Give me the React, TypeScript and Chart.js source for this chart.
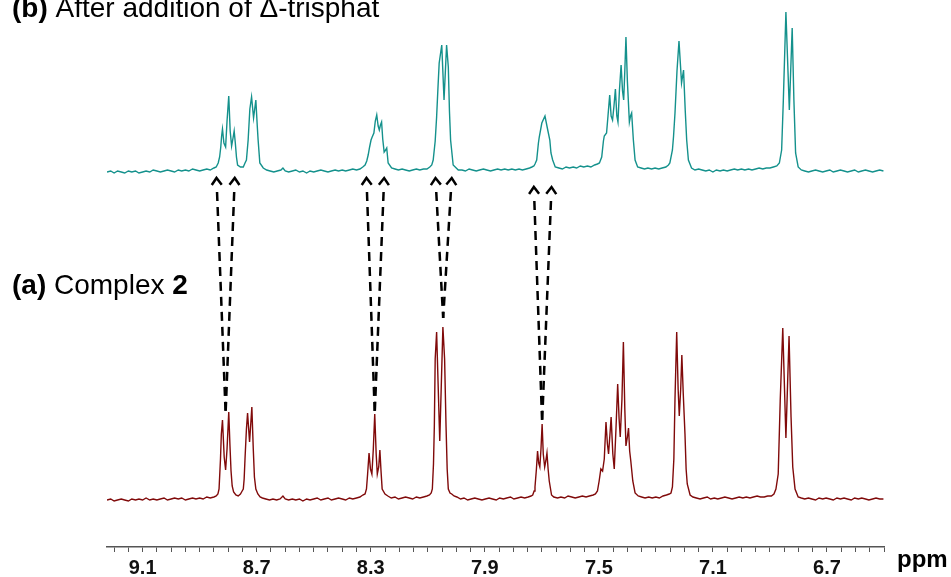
import React, { useEffect, useRef } from 'react';
import { Chart, registerables } from 'chart.js';

Chart.register(...registerables);

// ---------- axis ----------
const X_MIN = 6.5;
const X_MAX = 9.225;
const TICK_LABELS = [9.1, 8.7, 8.3, 7.9, 7.5, 7.1, 6.7];
const MINOR_TICK_FIRST = 9.2;
const MINOR_TICK_LAST = 6.5;
const MINOR_TICK_STEP = 0.05;
const AXIS_UNIT = 'ppm';

// ---------- spectra: [ppm, intensity] ----------
// (a) Complex 2
const BOTTOM_TRACE: [number, number][] = [
  [9.225, -1], [9.212, 0], [9.2, -2], [9.188, -1], [9.175, 0], [9.163, -1], [9.15, -2], [9.138, 0], [9.125, -1], [9.113, 0],
  [9.1, -1], [9.088, 1], [9.075, -1], [9.063, 0], [9.05, -1], [9.038, 0], [9.025, 1], [9.013, -1], [9.0, 0], [8.988, 1],
  [8.975, 0], [8.963, 1], [8.95, -1], [8.938, 0], [8.925, 1], [8.913, 0], [8.9, 1], [8.888, 0], [8.875, 2], [8.863, 1],
  [8.85, 2], [8.842, 3], [8.836, 5],
  [8.832, 10], [8.827, 40], [8.824, 65], [8.82, 79], [8.814, 42], [8.809, 29], [8.804, 50], [8.798, 87], [8.794, 55],
  [8.79, 28], [8.786, 13], [8.781, 7], [8.773, 4], [8.765, 3], [8.757, 5], [8.751, 8],
  [8.747, 10], [8.744, 20], [8.741, 40], [8.736, 70], [8.732, 86], [8.725, 57], [8.717, 92], [8.712, 50], [8.708, 22],
  [8.703, 10], [8.696, 5], [8.688, 2],
  [8.68, 1], [8.668, 0], [8.655, -1], [8.643, 0], [8.63, -1], [8.618, 0], [8.608, 3], [8.6, 0], [8.588, -1], [8.575, 0],
  [8.563, -1], [8.55, 0], [8.538, -2], [8.525, 0], [8.513, -1], [8.5, 0], [8.488, 1], [8.475, -1], [8.463, 0], [8.45, 1],
  [8.438, -1], [8.425, 0], [8.413, 1], [8.4, 0], [8.388, -1], [8.375, 1], [8.363, 0], [8.35, 1], [8.338, 2], [8.328, 4],
  [8.32, 5], [8.315, 10], [8.311, 25], [8.306, 46], [8.301, 30], [8.296, 25], [8.291, 50], [8.286, 85], [8.281, 45],
  [8.277, 25], [8.272, 32], [8.268, 49], [8.264, 28], [8.26, 10], [8.25, 5], [8.24, 3],
  [8.228, 1], [8.215, 2], [8.203, 0], [8.19, 1], [8.178, 2], [8.165, 1], [8.153, 0], [8.14, 2], [8.128, 1], [8.115, 2],
  [8.103, 3], [8.094, 4], [8.088, 6],
  [8.084, 10], [8.08, 35], [8.077, 73], [8.074, 140], [8.069, 167], [8.058, 58], [8.047, 172], [8.041, 140], [8.036, 73],
  [8.032, 30], [8.028, 10], [8.022, 6], [8.016, 5], [8.008, 3],
  [7.998, 2], [7.985, 0], [7.973, 1], [7.96, -1], [7.948, 0], [7.935, 1], [7.923, 0], [7.91, -1], [7.898, 0], [7.885, 1],
  [7.873, 0], [7.86, -1], [7.848, 1], [7.835, 0], [7.823, 1], [7.81, 2], [7.798, 0], [7.785, 1], [7.773, 2], [7.76, 1],
  [7.748, 2], [7.738, 3],
  [7.732, 4], [7.727, 8], [7.724, 12], [7.719, 30], [7.715, 48], [7.711, 36], [7.707, 32], [7.703, 50], [7.699, 75],
  [7.695, 45], [7.69, 32], [7.686, 38], [7.682, 46], [7.678, 30], [7.674, 18], [7.666, 4],
  [7.658, 2], [7.645, 1], [7.633, 2], [7.62, 1], [7.608, 3], [7.595, 2], [7.583, 1], [7.57, 2], [7.558, 3], [7.545, 2],
  [7.533, 3], [7.52, 4], [7.512, 5], [7.505, 8],
  [7.499, 18], [7.493, 30], [7.487, 28], [7.481, 40], [7.475, 77], [7.47, 55], [7.466, 45], [7.461, 65], [7.457, 82],
  [7.451, 45], [7.446, 30], [7.44, 70], [7.434, 115], [7.429, 80], [7.425, 62], [7.419, 100], [7.414, 157], [7.409, 90],
  [7.405, 53], [7.4, 62], [7.396, 71], [7.392, 48], [7.388, 38], [7.381, 18], [7.373, 6], [7.362, 3],
  [7.35, 2], [7.338, 1], [7.325, 2], [7.313, 1], [7.3, 2], [7.288, 1], [7.275, 3], [7.263, 4], [7.253, 5],
  [7.247, 6], [7.242, 12], [7.237, 40], [7.233, 100], [7.227, 167], [7.222, 110], [7.218, 83], [7.213, 110], [7.209, 144],
  [7.204, 105], [7.198, 65], [7.194, 30], [7.19, 15], [7.18, 4],
  [7.17, 2], [7.158, 1], [7.145, 0], [7.133, 1], [7.12, 2], [7.108, 0], [7.095, 1], [7.083, 0], [7.07, 1], [7.058, 2],
  [7.045, 1], [7.033, 0], [7.02, 1], [7.008, 2], [6.995, 1], [6.983, 2], [6.97, 1], [6.958, 2], [6.945, 3], [6.933, 2],
  [6.92, 2], [6.908, 3], [6.895, 3], [6.886, 5],
  [6.879, 10], [6.871, 25], [6.864, 98], [6.855, 171], [6.844, 61], [6.833, 163], [6.826, 82], [6.82, 32], [6.812, 10],
  [6.801, 2],
  [6.79, 1], [6.778, 0], [6.765, 1], [6.753, 0], [6.74, -1], [6.728, 1], [6.715, 0], [6.703, 1], [6.69, 0], [6.678, -1],
  [6.665, 1], [6.653, 0], [6.64, 1], [6.628, 0], [6.615, -1], [6.603, 1], [6.59, 0], [6.578, 1], [6.565, 0], [6.553, -1],
  [6.54, 0], [6.528, 1], [6.515, 0], [6.502, 0],
];

// (b) After addition of Δ-trisphat
const TOP_TRACE: [number, number][] = [
  [9.225, -1], [9.212, 0], [9.2, -2], [9.188, 0], [9.175, -1], [9.163, -2], [9.15, 0], [9.138, -1], [9.125, 0], [9.113, -2],
  [9.1, -1], [9.088, 0], [9.075, -1], [9.063, 1], [9.05, 0], [9.038, -1], [9.025, 0], [9.013, 1], [9.0, 0], [8.988, -1],
  [8.975, 1], [8.963, 0], [8.95, 1], [8.938, 0], [8.925, 2], [8.913, 1], [8.9, 0], [8.888, 1], [8.875, 2], [8.863, 1],
  [8.85, 3], [8.842, 4],
  [8.835, 8], [8.83, 14], [8.826, 24], [8.823, 35], [8.82, 42], [8.815, 28], [8.809, 24], [8.804, 50], [8.798, 75],
  [8.793, 40], [8.788, 25], [8.783, 33], [8.779, 40], [8.775, 28], [8.771, 14], [8.767, 6], [8.757, 4], [8.747, 4], [8.741, 8],
  [8.736, 11], [8.73, 31], [8.724, 62], [8.718, 74], [8.711, 53], [8.703, 71], [8.698, 45], [8.695, 31], [8.689, 8], [8.677, 3],
  [8.665, 1], [8.653, 0], [8.64, -1], [8.628, 0], [8.615, 1], [8.608, 3], [8.6, 0], [8.588, -1], [8.575, 0], [8.563, 1],
  [8.55, -1], [8.538, 0], [8.525, -2], [8.513, 0], [8.5, -1], [8.488, 0], [8.475, 1], [8.463, 0], [8.45, -1], [8.438, 0],
  [8.425, 1], [8.413, 0], [8.4, 1], [8.388, 0], [8.375, 1], [8.363, 2], [8.35, 1], [8.338, 2], [8.328, 4],
  [8.32, 6], [8.314, 10], [8.309, 16], [8.304, 24], [8.299, 31], [8.295, 34], [8.289, 38], [8.284, 50], [8.279, 56],
  [8.274, 45], [8.27, 41], [8.266, 46], [8.262, 49], [8.258, 32], [8.253, 19], [8.248, 21], [8.244, 23], [8.239, 8], [8.227, 3],
  [8.215, 2], [8.203, 1], [8.19, 2], [8.178, 1], [8.165, 0], [8.153, 1], [8.14, 2], [8.128, 1], [8.115, 2], [8.103, 2],
  [8.093, 4], [8.086, 6],
  [8.081, 11], [8.074, 30], [8.069, 54], [8.064, 85], [8.06, 108], [8.051, 126], [8.043, 71], [8.034, 126], [8.028, 104],
  [8.024, 60], [8.02, 31], [8.011, 6], [7.993, 1],
  [7.98, 1], [7.968, 0], [7.955, 2], [7.943, 1], [7.93, 0], [7.918, 1], [7.905, 2], [7.893, 1], [7.88, 0], [7.868, 1],
  [7.855, 2], [7.843, 1], [7.83, 2], [7.818, 1], [7.805, 2], [7.793, 1], [7.78, 2], [7.768, 1], [7.755, 2], [7.743, 3],
  [7.735, 4], [7.728, 5],
  [7.724, 7], [7.718, 11], [7.712, 28], [7.709, 34], [7.7, 48], [7.689, 55], [7.68, 42], [7.672, 31], [7.668, 18],
  [7.662, 11], [7.653, 4],
  [7.64, 3], [7.628, 2], [7.615, 4], [7.603, 3], [7.59, 4], [7.578, 3], [7.565, 5], [7.553, 4], [7.54, 5], [7.528, 4],
  [7.515, 6], [7.505, 7], [7.498, 8],
  [7.49, 14], [7.484, 30], [7.481, 35], [7.473, 38], [7.468, 55], [7.462, 76], [7.457, 55], [7.452, 51], [7.447, 65],
  [7.442, 82], [7.437, 55], [7.433, 49], [7.428, 80], [7.422, 106], [7.417, 80], [7.413, 71], [7.409, 100], [7.405, 134],
  [7.4, 90], [7.393, 49], [7.389, 55], [7.385, 58], [7.379, 31], [7.373, 11], [7.364, 4],
  [7.352, 3], [7.34, 2], [7.328, 3], [7.315, 2], [7.303, 3], [7.29, 2], [7.278, 3], [7.265, 4], [7.256, 6],
  [7.251, 8], [7.242, 21], [7.238, 35], [7.233, 58], [7.226, 100], [7.219, 130], [7.21, 88], [7.203, 101], [7.197, 60],
  [7.192, 31], [7.186, 11], [7.175, 3],
  [7.163, 1], [7.15, 2], [7.138, 1], [7.125, 0], [7.113, 1], [7.1, -1], [7.088, 1], [7.075, 0], [7.063, 1], [7.05, 0],
  [7.038, 1], [7.025, 2], [7.013, 1], [7.0, 2], [6.988, 1], [6.975, 2], [6.963, 1], [6.95, 2], [6.938, 3], [6.925, 2],
  [6.913, 3], [6.9, 3], [6.888, 4], [6.876, 5],
  [6.867, 8], [6.859, 21], [6.853, 71], [6.844, 159], [6.832, 61], [6.822, 143], [6.816, 71], [6.81, 18], [6.801, 4],
  [6.79, 1], [6.778, 0], [6.765, -1], [6.753, 0], [6.74, 1], [6.728, 0], [6.715, -1], [6.703, 0], [6.69, 1], [6.678, -1],
  [6.665, 0], [6.653, 1], [6.64, 0], [6.628, -1], [6.615, 0], [6.603, 1], [6.59, -1], [6.578, 0], [6.565, 1], [6.553, 0],
  [6.54, -1], [6.528, 0], [6.515, 1], [6.502, 0],
];

// ---------- correlation arrows (bottom peak -> top peaks) ----------
const ARROW_BASE_PPM = [8.809, 8.286, 8.046, 7.699];
const ARROW_BASE_Y = [86, 86, 181, 77];
const ARROW_TIP_PPM = [
  [8.841, 8.777],
  [8.315, 8.253],
  [8.073, 8.016],
  [7.728, 7.666],
];
const ARROW_TIP_Y = [321, 321, 321, 312];

// ---------- layout / style ----------
const TOP_OFFSET = 328;
const Y_MIN = -48;
const Y_MAX = 499;
const W = 951;
const H = 577;
const TEAL = '#14918c';
const DARK_RED = '#800a0a';
const FONT = '"Liberation Sans", Arial, Helvetica, sans-serif';
const TICK_FONT = '"Liberation Sans Narrow", "Arial Narrow", "Liberation Sans", Arial, sans-serif';

const annotationPlugin = {
  id: 'nmrAnnotations',
  afterDatasetsDraw(chart: any) {
    const { ctx, scales } = chart;
    const xs = scales.x;
    const ys = scales.y;
    ctx.save();
    ctx.strokeStyle = '#000';
    ctx.lineWidth = 2.5;
    ctx.lineCap = 'butt';
    for (let i = 0; i < ARROW_BASE_PPM.length; i++) {
      const bx = xs.getPixelForValue(ARROW_BASE_PPM[i]);
      const by = ys.getPixelForValue(ARROW_BASE_Y[i]);
      for (let j = 0; j < 2; j++) {
        const tx = xs.getPixelForValue(ARROW_TIP_PPM[i][j]);
        const ty = ys.getPixelForValue(ARROW_TIP_Y[i]);
        const dx = bx - tx;
        const dy = by - ty;
        const len = Math.hypot(dx, dy);
        const ux = dx / len;
        const uy = dy / len;
        ctx.setLineDash([9, 6]);
        ctx.beginPath();
        ctx.moveTo(tx + ux * 14, ty + uy * 14);
        ctx.lineTo(bx, by);
        ctx.stroke();
        ctx.setLineDash([]);
        const a = (36 * Math.PI) / 180;
        const armLen = 8.5;
        const c = Math.cos(a);
        const s = Math.sin(a);
        const a1x = ux * c - uy * s;
        const a1y = ux * s + uy * c;
        const a2x = ux * c + uy * s;
        const a2y = -ux * s + uy * c;
        ctx.lineJoin = 'miter';
        ctx.beginPath();
        ctx.moveTo(tx + a1x * armLen, ty + a1y * armLen);
        ctx.lineTo(tx, ty);
        ctx.lineTo(tx + a2x * armLen, ty + a2y * armLen);
        ctx.stroke();
      }
    }
    ctx.restore();
  },
  afterDraw(chart: any) {
    const { ctx } = chart;
    ctx.save();
    ctx.fillStyle = '#000';
    ctx.textBaseline = 'alphabetic';
    ctx.textAlign = 'left';
    const drawRuns = (runs: [string, boolean][], x: number, y: number, size: number) => {
      let cx = x;
      for (const [t, bold] of runs) {
        ctx.font = `${bold ? 'bold ' : ''}${size}px ${FONT}`;
        ctx.fillText(t, cx, y);
        cx += ctx.measureText(t).width;
      }
    };
    drawRuns([['(b)', true], [' After addition of Δ-trisphat', false]], 12, 17, 28);
    drawRuns([['(a)', true], [' Complex ', false], ['2', true]], 12, 294, 28);
    ctx.font = `bold 24px ${FONT}`;
    ctx.fillText(AXIS_UNIT, 897, 567);
    ctx.restore();
  },
};

export default function App() {
  const canvasRef = useRef<HTMLCanvasElement | null>(null);

  useEffect(() => {
    const canvas = canvasRef.current;
    if (!canvas) return;
    const minorTicks: number[] = [];
    for (let v = MINOR_TICK_FIRST; v >= MINOR_TICK_LAST - 1e-9; v -= MINOR_TICK_STEP) {
      minorTicks.push(Math.round(v * 1000) / 1000);
    }
    const chart = new Chart(canvas, {
      type: 'line',
      data: {
        datasets: [
          {
            label: '(a) Complex 2',
            data: BOTTOM_TRACE.map(([p, v]) => ({ x: p, y: v })),
            borderColor: DARK_RED,
            borderWidth: 1.4,
            pointRadius: 0,
            tension: 0,
            fill: false,
          },
          {
            label: '(b) After addition of Δ-trisphat',
            data: TOP_TRACE.map(([p, v]) => ({ x: p, y: v + TOP_OFFSET })),
            borderColor: TEAL,
            borderWidth: 1.4,
            pointRadius: 0,
            tension: 0,
            fill: false,
          },
        ],
      },
      options: {
        responsive: false,
        animation: false,
        devicePixelRatio: 1,
        layout: { padding: { left: 107, right: 67, top: 0, bottom: 0 } },
        plugins: {
          legend: { display: false },
          tooltip: { enabled: false },
          title: { display: false },
        },
        scales: {
          x: {
            type: 'linear',
            reverse: true,
            min: X_MIN,
            max: X_MAX,
            position: 'bottom',
            afterBuildTicks: (scale: any) => {
              scale.ticks = minorTicks.map((v) => ({ value: v }));
            },
            afterFit: (scale: any) => {
              scale.height = 30;
            },
            ticks: {
              autoSkip: false,
              maxRotation: 0,
              minRotation: 0,
              padding: 4,
              color: '#111',
              font: { family: TICK_FONT, size: 20, weight: 'bold' },
              callback: (value: any) => {
                const hit = TICK_LABELS.find((t) => Math.abs(t - Number(value)) < 1e-6);
                return hit !== undefined ? hit.toFixed(1) : '';
              },
            },
            grid: {
              display: true,
              drawOnChartArea: false,
              drawTicks: true,
              tickLength: 5,
              color: '#555',
              lineWidth: 1,
            },
            border: { display: true, color: '#555', width: 1.5 },
          },
          y: {
            display: false,
            min: Y_MIN,
            max: Y_MAX,
          },
        },
      },
      plugins: [annotationPlugin],
    } as any);
    return () => chart.destroy();
  }, []);

  return (
    <div style={{ position: 'fixed', left: 0, top: 0, width: W, height: H, background: '#fff' }}>
      <canvas ref={canvasRef} width={W} height={H} style={{ display: 'block', width: W, height: H }} />
    </div>
  );
}
